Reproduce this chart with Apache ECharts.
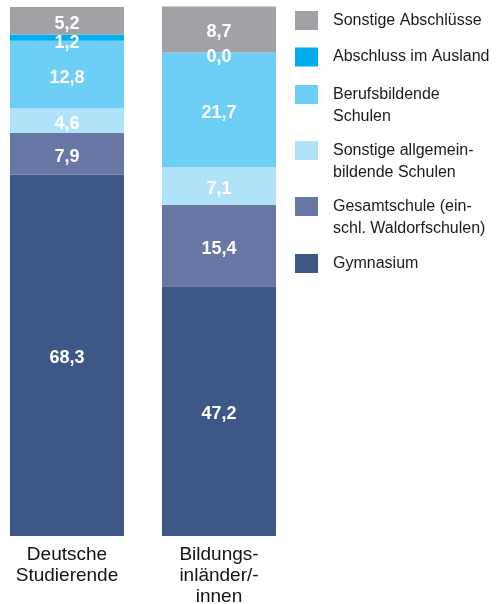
<!DOCTYPE html>
<html>
<head>
<meta charset="utf-8">
<script src="https://cdn.jsdelivr.net/npm/echarts@6/dist/echarts.min.js"></script>
<style>
    html, body { margin: 0; padding: 0; background: #fff; }
    #chart_01 { width: 500px; height: 604px; }
</style>
</head>
<body>
<div id="chart_01"></div>
<script>
var categories = ['Deutsche\nStudierende', 'Bildungs-\ninländer/-\ninnen'];
var seriesNames = ['Gymnasium', 'Gesamtschule (ein-\nschl. Waldorfschulen)', 'Sonstige allgemein-\nbildende Schulen', 'Berufsbildende\nSchulen', 'Abschluss im Ausland', 'Sonstige Abschlüsse'];
var gymnasium = [68.3, 47.2];
var gesamtschule = [7.9, 15.4];
var sonstigeAllgemein = [4.6, 7.1];
var berufsbildende = [12.8, 21.7];
var ausland = [1.2, 0.0];
var sonstigeAbschluesse = [5.2, 8.7];
var colors = ['#3d5787', '#6877a4', '#b0e2fa', '#6dcff6', '#00adef', '#a2a2a6'];

var seriesData = [gymnasium, gesamtschule, sonstigeAllgemein, berufsbildende, ausland, sonstigeAbschluesse];
var font = 'Liberation Sans, Arial, sans-serif';

var myChart = echarts.init(document.getElementById('chart_01'));

// legend: one block per entry, top to bottom, icon lined up with first text line
var legendTops = [8.5, 8.5 + 36.5, 60.5, 116.5, 172.5, 251.5].reverse();
var legends = seriesNames.map(function (name, i) {
    var twoLines = name.indexOf('\n') >= 0;
    return {
        data: [name],
        left: 295,
        top: legendTops[i],
        padding: 0,
        itemWidth: 23,
        itemHeight: 19,
        icon: 'rect',
        selectedMode: false,
        formatter: function (n) {
            // empty first line pushes the label down so its first line sits next to the square
            return twoLines ? '\n' + n : n;
        },
        textStyle: {
            fontFamily: font,
            fontSize: 16,
            color: '#1a1a1a',
            lineHeight: 22,
            padding: [2, 0, 0, 10]
        }
    };
});

var option = {
    animation: false,
    color: colors,
    legend: legends,
    grid: {
        left: 67,
        right: 281,
        top: 7,
        bottom: 68,
        outerBoundsMode: 'none'
    },
    xAxis: {
        type: 'category',
        data: categories,
        boundaryGap: false,
        axisLine: { show: false },
        axisTick: { show: false },
        axisLabel: {
            margin: 8,
            fontFamily: font,
            fontSize: 19,
            lineHeight: 21,
            color: '#111',
            verticalAlign: 'top'
        }
    },
    yAxis: {
        type: 'value',
        min: 0,
        max: 100,
        show: false,
        splitLine: { show: false }
    },
    series: seriesNames.map(function (name, i) {
        return {
            name: name,
            type: 'bar',
            stack: 'total',
            barWidth: 114,
            clip: false,
            data: seriesData[i],
            itemStyle: { color: colors[i] },
            label: {
                show: true,
                position: 'inside',
                offset: [0, i === 4 ? 5 : 3],
                fontFamily: font,
                fontSize: 18,
                fontWeight: 'bold',
                color: '#fff',
                formatter: function (p) {
                    return p.value.toFixed(1).replace('.', ',');
                }
            }
        };
    })
};

myChart.setOption(option);
</script>
</body>
</html>
